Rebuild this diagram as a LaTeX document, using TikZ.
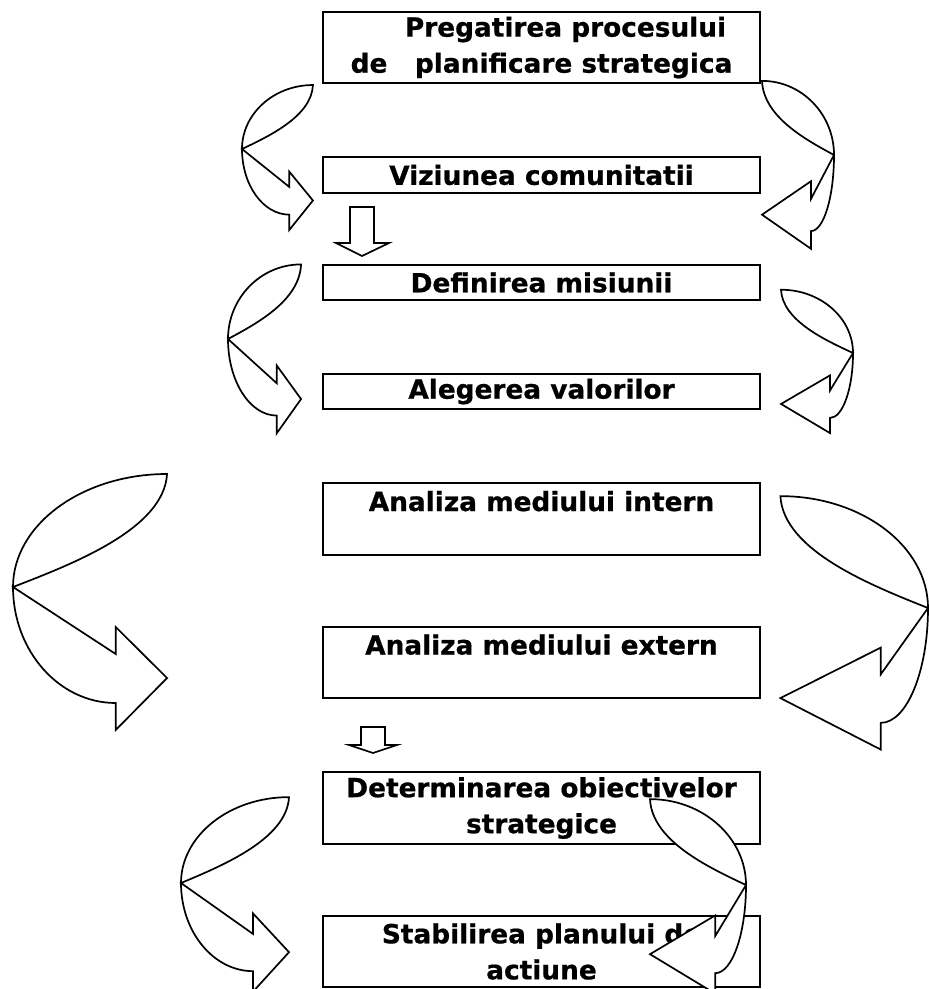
\documentclass[tikz,border=0pt]{standalone}
\usepackage{fontspec}
\setmainfont{DejaVu Sans}[BoldFeatures={FakeBold=0.7}]
\usepackage{tikz}

\begin{document}
\begin{tikzpicture}[
  x=0.2mm, y=-0.2mm,
  stage/.style={rectangle, draw, line width=0.48mm, minimum width=87.4mm, inner sep=1pt, align=center,
    font=\fontsize{15}{20.5}\selectfont\bfseries},
  tall/.style={minimum height=14.3mm},
  flat/.style={minimum height=7.1mm},
  bendline/.style={draw, fill=white, line width=0.34mm, line join=miter},
  pics/bend/.style={code={
    \draw[bendline] (150,-113) .. controls (147,-58) and (58,-23) .. (0,0)
      -- (#1,67) -- (#1,40) -- (150,91) -- (#1,143) -- (#1,116)
      .. controls ({0.45*#1},116) and (0,64) .. (0,0)
      .. controls (0,-62) and (67,-113) .. (150,-113) -- cycle;
  }}
]
\useasboundingbox (0,0) rectangle (928,989);

% etapele
\node[stage, tall] (prep) at (541.5,47.5) {\hspace*{9.6mm}Pregatirea procesului\\de~~~planificare strategica};
\node[stage, flat] (viz) at (541.5,175) {Viziunea comunitatii};
\node[stage, flat] (mis) at (541.5,282.5) {Definirea misiunii};
\node[stage, flat] (val) at (541.5,391.5) {Alegerea valorilor};
\node[stage, tall] (intern) at (541.5,519) {Analiza mediului intern\\\mbox{}};
\node[stage, tall] (extern) at (541.5,662.5) {Analiza mediului extern\\\mbox{}};
\node[stage, tall] (obj) at (541.5,808) {Determinarea obiectivelor\\strategice};
\node[stage, tall] (plan) at (541.5,951.5) {Stabilirea planului de\\actiune};

% sageti in jos
\draw[bendline] (350,207) -- (374,207) -- (374,243) -- (389,243) -- (362,256) -- (336,243) -- (350,243) -- cycle;
\draw[bendline] (361,727) -- (385,727) -- (385,745) -- (397,745) -- (373,753) -- (349,745) -- (361,745) -- cycle;

% sageti curbe, stanga
\pic[xscale=0.473, yscale=0.566] at (242,149) {bend=100};
\pic[xscale=0.487, yscale=0.66] at (228,339) {bend=100};
\pic[xscale=1.027, yscale=1.0] at (13,587) {bend=100};
\pic[xscale=0.72, yscale=0.76] at (181,883) {bend=100};

% sageti curbe, dreapta
\pic[xscale=-0.48, yscale=0.656] at (834,155) {bend=48};
\pic[xscale=-0.48, yscale=0.56] at (853,353) {bend=48};
\pic[xscale=-0.984, yscale=0.99] at (928,608) {bend=48};
\pic[xscale=-0.64, yscale=0.76] at (746,885) {bend=48};

\end{tikzpicture}
\end{document}
